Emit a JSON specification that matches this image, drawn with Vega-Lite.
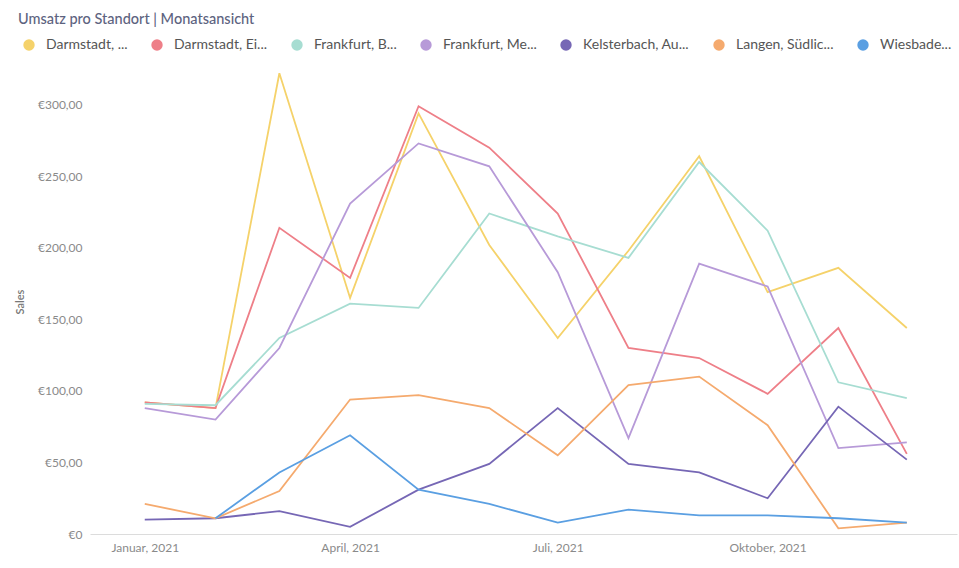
{
  "$schema": "https://vega.github.io/schema/vega-lite/v6.json",
  "width": 867,
  "height": 465,
  "autosize": {"type": "none"},
  "padding": {"left": 90, "top": 69, "right": 2, "bottom": 34},
  "background": "#ffffff",
  "title": {
    "text": "Umsatz pro Standort | Monatsansicht",
    "anchor": "start",
    "frame": "group",
    "dx": -72,
    "font": "Lato",
    "fontSize": 14.5,
    "fontWeight": 500,
    "color": "#5d6380",
    "offset": 11
  },
  "config": {
    "view": {"stroke": null},
    "font": "Lato"
  },
  "data": {
    "values": [
      {"standort": "Darmstadt, ...", "monat": "2021-01-01T00:00:00", "umsatz": 92},
      {"standort": "Darmstadt, ...", "monat": "2021-02-01T00:00:00", "umsatz": 88},
      {"standort": "Darmstadt, ...", "monat": "2021-03-01T00:00:00", "umsatz": 322},
      {"standort": "Darmstadt, ...", "monat": "2021-04-01T00:00:00", "umsatz": 165},
      {"standort": "Darmstadt, ...", "monat": "2021-05-01T00:00:00", "umsatz": 294},
      {"standort": "Darmstadt, ...", "monat": "2021-06-01T00:00:00", "umsatz": 202},
      {"standort": "Darmstadt, ...", "monat": "2021-07-01T00:00:00", "umsatz": 137},
      {"standort": "Darmstadt, ...", "monat": "2021-08-01T00:00:00", "umsatz": 198},
      {"standort": "Darmstadt, ...", "monat": "2021-09-01T00:00:00", "umsatz": 264},
      {"standort": "Darmstadt, ...", "monat": "2021-10-01T00:00:00", "umsatz": 169},
      {"standort": "Darmstadt, ...", "monat": "2021-11-01T00:00:00", "umsatz": 186},
      {"standort": "Darmstadt, ...", "monat": "2021-12-01T00:00:00", "umsatz": 144},

      {"standort": "Darmstadt, Ei...", "monat": "2021-01-01T00:00:00", "umsatz": 92},
      {"standort": "Darmstadt, Ei...", "monat": "2021-02-01T00:00:00", "umsatz": 88},
      {"standort": "Darmstadt, Ei...", "monat": "2021-03-01T00:00:00", "umsatz": 214},
      {"standort": "Darmstadt, Ei...", "monat": "2021-04-01T00:00:00", "umsatz": 179},
      {"standort": "Darmstadt, Ei...", "monat": "2021-05-01T00:00:00", "umsatz": 299},
      {"standort": "Darmstadt, Ei...", "monat": "2021-06-01T00:00:00", "umsatz": 270},
      {"standort": "Darmstadt, Ei...", "monat": "2021-07-01T00:00:00", "umsatz": 224},
      {"standort": "Darmstadt, Ei...", "monat": "2021-08-01T00:00:00", "umsatz": 130},
      {"standort": "Darmstadt, Ei...", "monat": "2021-09-01T00:00:00", "umsatz": 123},
      {"standort": "Darmstadt, Ei...", "monat": "2021-10-01T00:00:00", "umsatz": 98},
      {"standort": "Darmstadt, Ei...", "monat": "2021-11-01T00:00:00", "umsatz": 144},
      {"standort": "Darmstadt, Ei...", "monat": "2021-12-01T00:00:00", "umsatz": 56},

      {"standort": "Frankfurt, B...", "monat": "2021-01-01T00:00:00", "umsatz": 91},
      {"standort": "Frankfurt, B...", "monat": "2021-02-01T00:00:00", "umsatz": 90},
      {"standort": "Frankfurt, B...", "monat": "2021-03-01T00:00:00", "umsatz": 137},
      {"standort": "Frankfurt, B...", "monat": "2021-04-01T00:00:00", "umsatz": 161},
      {"standort": "Frankfurt, B...", "monat": "2021-05-01T00:00:00", "umsatz": 158},
      {"standort": "Frankfurt, B...", "monat": "2021-06-01T00:00:00", "umsatz": 224},
      {"standort": "Frankfurt, B...", "monat": "2021-07-01T00:00:00", "umsatz": 208},
      {"standort": "Frankfurt, B...", "monat": "2021-08-01T00:00:00", "umsatz": 193},
      {"standort": "Frankfurt, B...", "monat": "2021-09-01T00:00:00", "umsatz": 260},
      {"standort": "Frankfurt, B...", "monat": "2021-10-01T00:00:00", "umsatz": 212},
      {"standort": "Frankfurt, B...", "monat": "2021-11-01T00:00:00", "umsatz": 106},
      {"standort": "Frankfurt, B...", "monat": "2021-12-01T00:00:00", "umsatz": 95},

      {"standort": "Frankfurt, Me...", "monat": "2021-01-01T00:00:00", "umsatz": 88},
      {"standort": "Frankfurt, Me...", "monat": "2021-02-01T00:00:00", "umsatz": 80},
      {"standort": "Frankfurt, Me...", "monat": "2021-03-01T00:00:00", "umsatz": 130},
      {"standort": "Frankfurt, Me...", "monat": "2021-04-01T00:00:00", "umsatz": 231},
      {"standort": "Frankfurt, Me...", "monat": "2021-05-01T00:00:00", "umsatz": 273},
      {"standort": "Frankfurt, Me...", "monat": "2021-06-01T00:00:00", "umsatz": 257},
      {"standort": "Frankfurt, Me...", "monat": "2021-07-01T00:00:00", "umsatz": 183},
      {"standort": "Frankfurt, Me...", "monat": "2021-08-01T00:00:00", "umsatz": 67},
      {"standort": "Frankfurt, Me...", "monat": "2021-09-01T00:00:00", "umsatz": 189},
      {"standort": "Frankfurt, Me...", "monat": "2021-10-01T00:00:00", "umsatz": 173},
      {"standort": "Frankfurt, Me...", "monat": "2021-11-01T00:00:00", "umsatz": 60},
      {"standort": "Frankfurt, Me...", "monat": "2021-12-01T00:00:00", "umsatz": 64},

      {"standort": "Kelsterbach, Au...", "monat": "2021-01-01T00:00:00", "umsatz": 10},
      {"standort": "Kelsterbach, Au...", "monat": "2021-02-01T00:00:00", "umsatz": 11},
      {"standort": "Kelsterbach, Au...", "monat": "2021-03-01T00:00:00", "umsatz": 16},
      {"standort": "Kelsterbach, Au...", "monat": "2021-04-01T00:00:00", "umsatz": 5},
      {"standort": "Kelsterbach, Au...", "monat": "2021-05-01T00:00:00", "umsatz": 31},
      {"standort": "Kelsterbach, Au...", "monat": "2021-06-01T00:00:00", "umsatz": 49},
      {"standort": "Kelsterbach, Au...", "monat": "2021-07-01T00:00:00", "umsatz": 88},
      {"standort": "Kelsterbach, Au...", "monat": "2021-08-01T00:00:00", "umsatz": 49},
      {"standort": "Kelsterbach, Au...", "monat": "2021-09-01T00:00:00", "umsatz": 43},
      {"standort": "Kelsterbach, Au...", "monat": "2021-10-01T00:00:00", "umsatz": 25},
      {"standort": "Kelsterbach, Au...", "monat": "2021-11-01T00:00:00", "umsatz": 89},
      {"standort": "Kelsterbach, Au...", "monat": "2021-12-01T00:00:00", "umsatz": 52},

      {"standort": "Langen, Südlic...", "monat": "2021-01-01T00:00:00", "umsatz": 21},
      {"standort": "Langen, Südlic...", "monat": "2021-02-01T00:00:00", "umsatz": 11},
      {"standort": "Langen, Südlic...", "monat": "2021-03-01T00:00:00", "umsatz": 30},
      {"standort": "Langen, Südlic...", "monat": "2021-04-01T00:00:00", "umsatz": 94},
      {"standort": "Langen, Südlic...", "monat": "2021-05-01T00:00:00", "umsatz": 97},
      {"standort": "Langen, Südlic...", "monat": "2021-06-01T00:00:00", "umsatz": 88},
      {"standort": "Langen, Südlic...", "monat": "2021-07-01T00:00:00", "umsatz": 55},
      {"standort": "Langen, Südlic...", "monat": "2021-08-01T00:00:00", "umsatz": 104},
      {"standort": "Langen, Südlic...", "monat": "2021-09-01T00:00:00", "umsatz": 110},
      {"standort": "Langen, Südlic...", "monat": "2021-10-01T00:00:00", "umsatz": 76},
      {"standort": "Langen, Südlic...", "monat": "2021-11-01T00:00:00", "umsatz": 4},
      {"standort": "Langen, Südlic...", "monat": "2021-12-01T00:00:00", "umsatz": 8},

      {"standort": "Wiesbade...", "monat": "2021-02-01T00:00:00", "umsatz": 11},
      {"standort": "Wiesbade...", "monat": "2021-03-01T00:00:00", "umsatz": 43},
      {"standort": "Wiesbade...", "monat": "2021-04-01T00:00:00", "umsatz": 69},
      {"standort": "Wiesbade...", "monat": "2021-05-01T00:00:00", "umsatz": 31},
      {"standort": "Wiesbade...", "monat": "2021-06-01T00:00:00", "umsatz": 21},
      {"standort": "Wiesbade...", "monat": "2021-07-01T00:00:00", "umsatz": 8},
      {"standort": "Wiesbade...", "monat": "2021-08-01T00:00:00", "umsatz": 17},
      {"standort": "Wiesbade...", "monat": "2021-09-01T00:00:00", "umsatz": 13},
      {"standort": "Wiesbade...", "monat": "2021-10-01T00:00:00", "umsatz": 13},
      {"standort": "Wiesbade...", "monat": "2021-11-01T00:00:00", "umsatz": 11},
      {"standort": "Wiesbade...", "monat": "2021-12-01T00:00:00", "umsatz": 8}
    ]
  },
  "mark": {"type": "line", "strokeWidth": 1.8, "interpolate": "linear"},
  "encoding": {
    "x": {
      "field": "monat",
      "type": "temporal",
      "scale": {
        "domain": [
          {"year": 2020, "month": 12, "date": 8},
          {"year": 2021, "month": 12, "date": 23}
        ]
      },
      "axis": {
        "title": null,
        "grid": false,
        "ticks": false,
        "domain": true,
        "domainColor": "#dcdcdc",
        "domainWidth": 1,
        "values": [
          {"year": 2021, "month": 1, "date": 1},
          {"year": 2021, "month": 4, "date": 1},
          {"year": 2021, "month": 7, "date": 1},
          {"year": 2021, "month": 10, "date": 1}
        ],
        "labelExpr": "['Januar','Februar','März','April','Mai','Juni','Juli','August','September','Oktober','November','Dezember'][month(datum.value)] + ', ' + year(datum.value)",
        "labelFont": "Lato",
        "labelFontSize": 12,
        "labelColor": "#8a8a8a",
        "labelPadding": 8
      }
    },
    "y": {
      "field": "umsatz",
      "type": "quantitative",
      "scale": {"domain": [0, 325], "nice": false},
      "axis": {
        "title": "Sales",
        "titleFont": "Lato",
        "titleFontSize": 11,
        "titleFontWeight": 600,
        "titleColor": "#777777",
        "titlePadding": 12,
        "grid": false,
        "ticks": false,
        "domain": false,
        "values": [0, 50, 100, 150, 200, 250, 300],
        "labelExpr": "datum.value == 0 ? '€0' : '€' + replace(format(datum.value, '.2f'), '.', ',')",
        "labelFont": "Lato",
        "labelFontSize": 12,
        "labelColor": "#8a8a8a",
        "labelPadding": 8
      }
    },
    "color": {
      "field": "standort",
      "type": "nominal",
      "scale": {
        "domain": ["Darmstadt, ...", "Darmstadt, Ei...", "Frankfurt, B...", "Frankfurt, Me...", "Kelsterbach, Au...", "Langen, Südlic...", "Wiesbade..."],
        "range": ["#f5d26a", "#ee7f88", "#a7ddd2", "#b79ad8", "#7667b5", "#f5aa6e", "#5a9fe2"]
      },
      "legend": {
        "title": null,
        "orient": "none",
        "direction": "horizontal",
        "legendX": -68,
        "legendY": -31,
        "symbolType": "circle",
        "symbolSize": 130,
        "symbolStrokeWidth": 0,
        "symbolOpacity": 1,
        "labelFont": "Lato",
        "labelFontSize": 14,
        "labelColor": "#555555",
        "labelOffset": 10,
        "columnPadding": 22,
        "labelLimit": 250,
        "encode": {
          "symbols": {
            "update": {
              "fill": {"scale": "color", "field": "value"},
              "fillOpacity": {"value": 1}
            }
          }
        }
      }
    }
  }
}
